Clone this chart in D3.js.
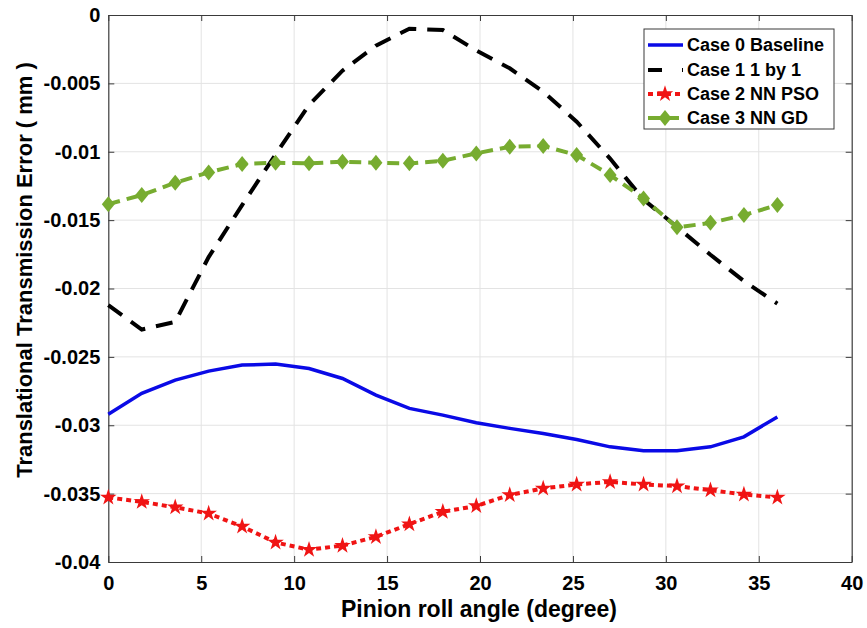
<!DOCTYPE html>
<html><head><meta charset="utf-8">
<script src="https://cdn.jsdelivr.net/npm/d3@7"></script>
<style>body{margin:0;background:#fff}svg{display:block}text{font-family:"Liberation Sans",Arial,sans-serif;font-weight:bold;fill:#000}</style>
</head><body><svg id="c" width="867" height="628"></svg>
<script>
const angles = [0,1.8,3.6,5.4,7.2,9,10.8,12.6,14.4,16.2,18,19.8,21.6,23.4,25.2,27,28.8,30.6,32.4,34.2,36];
const case0 = [-0.0292,-0.02766,-0.0267,-0.02604,-0.0256,-0.02553,-0.02585,-0.02658,-0.0278,-0.02877,-0.02926,-0.02982,-0.03023,-0.0306,-0.03104,-0.03158,-0.03187,-0.03187,-0.03158,-0.03085,-0.02939];
const case1 = [-0.02121,-0.0230,-0.02244,-0.0177,-0.0139,-0.0102,-0.00658,-0.00407,-0.00224,-0.0010,-0.0011,-0.0026,-0.0039,-0.0056,-0.0078,-0.0105,-0.0135,-0.0155,-0.01753,-0.01946,-0.0211];
const case2 = [-0.03528,-0.0356,-0.0360,-0.03645,-0.0374,-0.03857,-0.0391,-0.0388,-0.03816,-0.03723,-0.03633,-0.0359,-0.0351,-0.03462,-0.03433,-0.03414,-0.03433,-0.03445,-0.03475,-0.03506,-0.03528];
const case3 = [-0.01383,-0.01317,-0.01227,-0.01151,-0.0109,-0.0108,-0.01085,-0.01073,-0.0108,-0.01085,-0.01066,-0.01012,-0.00963,-0.00958,-0.01024,-0.0117,-0.01341,-0.01553,-0.0152,-0.01463,-0.0139];
const seriesNames = ["Case 0 Baseline","Case 1 1 by 1","Case 2 NN PSO","Case 3 NN GD"];
const xTicks = [0,5,10,15,20,25,30,35,40];
const yTicks = [0,-0.005,-0.01,-0.015,-0.02,-0.025,-0.03,-0.035,-0.04];
const xTitle = "Pinion roll angle (degree)";
const yTitle = "Translational Transmission Error ( mm )";

const L=108.3,R=851.7,T=15,B=562;
const svg=d3.select("#c");
const x=d3.scaleLinear().domain([0,40]).range([L,R]);
const y=d3.scaleLinear().domain([-0.04,0]).range([B,T]);

// grid
svg.append("g").selectAll("line").data(xTicks.slice(1,-1)).join("line")
 .attr("x1",d=>x(d)).attr("x2",d=>x(d)).attr("y1",T).attr("y2",B).attr("stroke","#e3e3e3");
svg.append("g").selectAll("line").data(yTicks.slice(1,-1)).join("line")
 .attr("y1",d=>y(d)).attr("y2",d=>y(d)).attr("x1",L).attr("x2",R).attr("stroke","#e3e3e3");

// axes
const fmt=d=>d===0?"0":String(+d.toFixed(3));
const gx=svg.append("g").attr("transform",`translate(0,${B})`).call(d3.axisBottom(x).tickValues(xTicks).tickSizeInner(-6).tickSizeOuter(0).tickPadding(14).tickFormat(d=>d));
const gxt=svg.append("g").attr("transform",`translate(0,${T})`).call(d3.axisTop(x).tickValues(xTicks).tickSizeInner(-6).tickSizeOuter(0).tickFormat(""));
const gy=svg.append("g").attr("transform",`translate(${L},0)`).call(d3.axisLeft(y).tickValues(yTicks).tickSizeInner(-6).tickSizeOuter(0).tickPadding(8).tickFormat(fmt));
const gyr=svg.append("g").attr("transform",`translate(${R},0)`).call(d3.axisRight(y).tickValues(yTicks).tickSizeInner(-6).tickSizeOuter(0).tickFormat(""));
[gx,gxt,gy,gyr].forEach(g=>{g.select(".domain").attr("stroke","#3a3a3a").attr("stroke-width",1.2);g.selectAll(".tick line").attr("stroke","#3a3a3a");});
[gx,gy].forEach(g=>g.selectAll("text").attr("font-size",20).attr("font-family","Liberation Sans, Arial").attr("font-weight","bold").attr("fill","#000"));

svg.append("text").attr("x",479).attr("y",617).attr("text-anchor","middle").attr("font-size",23).text(xTitle);
svg.append("text").attr("transform",`translate(32,270) rotate(-90)`).attr("text-anchor","middle").attr("font-size",22).text(yTitle);

const pts=v=>angles.map((a,i)=>[a,v[i]]);
const line=d3.line().x(d=>x(d[0])).y(d=>y(d[1]));
const plot=svg.append("g");
plot.append("path").attr("d",line(pts(case1))).attr("fill","none").attr("stroke","#000").attr("stroke-width",4).attr("stroke-dasharray","17,11");
plot.append("path").attr("d",line(pts(case0))).attr("fill","none").attr("stroke","#0a0ae6").attr("stroke-width",3.5);
plot.append("path").attr("d",line(pts(case2))).attr("fill","none").attr("stroke","#f01414").attr("stroke-width",4).attr("stroke-dasharray","5,4");
plot.append("path").attr("d",line(pts(case3))).attr("fill","none").attr("stroke","#77ac30").attr("stroke-width",4).attr("stroke-dasharray","12,7");
const star=d3.symbol().type(d3.symbolStar).size(85);
const diamond="M0,-8L6.5,0L0,8L-6.5,0Z";
plot.append("g").selectAll("path").data(pts(case2)).join("path").attr("d",star).attr("transform",d=>`translate(${x(d[0])},${y(d[1])})`).attr("fill","#f01414");
plot.append("g").selectAll("path").data(pts(case3)).join("path").attr("d",diamond).attr("transform",d=>`translate(${x(d[0])},${y(d[1])})`).attr("fill","#77ac30");

// legend
const lg=svg.append("g");
lg.append("rect").attr("x",644).attr("y",29).attr("width",190).attr("height",100).attr("fill","#fff").attr("stroke","#3a3a3a").attr("stroke-width",1);
const rowsY=[45,70,94,118];
const styles=[{c:"#0a0ae6",w:3.5,d:null},{c:"#000",w:4,d:"14,20"},{c:"#f01414",w:4,d:"5,4"},{c:"#77ac30",w:4,d:"12,7"}];
seriesNames.forEach((n,i)=>{
  const ly=rowsY[i];
  const s=styles[i];
  const p=lg.append("line").attr("x1",648).attr("x2",683).attr("y1",ly).attr("y2",ly).attr("stroke",s.c).attr("stroke-width",s.w);
  if(s.d)p.attr("stroke-dasharray",s.d);
  if(i===2)lg.append("path").attr("d",star()).attr("transform",`translate(665,${ly})`).attr("fill",s.c);
  if(i===3)lg.append("path").attr("d",diamond).attr("transform",`translate(665,${ly})`).attr("fill",s.c);
  lg.append("text").attr("x",687).attr("y",ly+6).attr("font-size",18).text(n);
});
</script></body></html>
